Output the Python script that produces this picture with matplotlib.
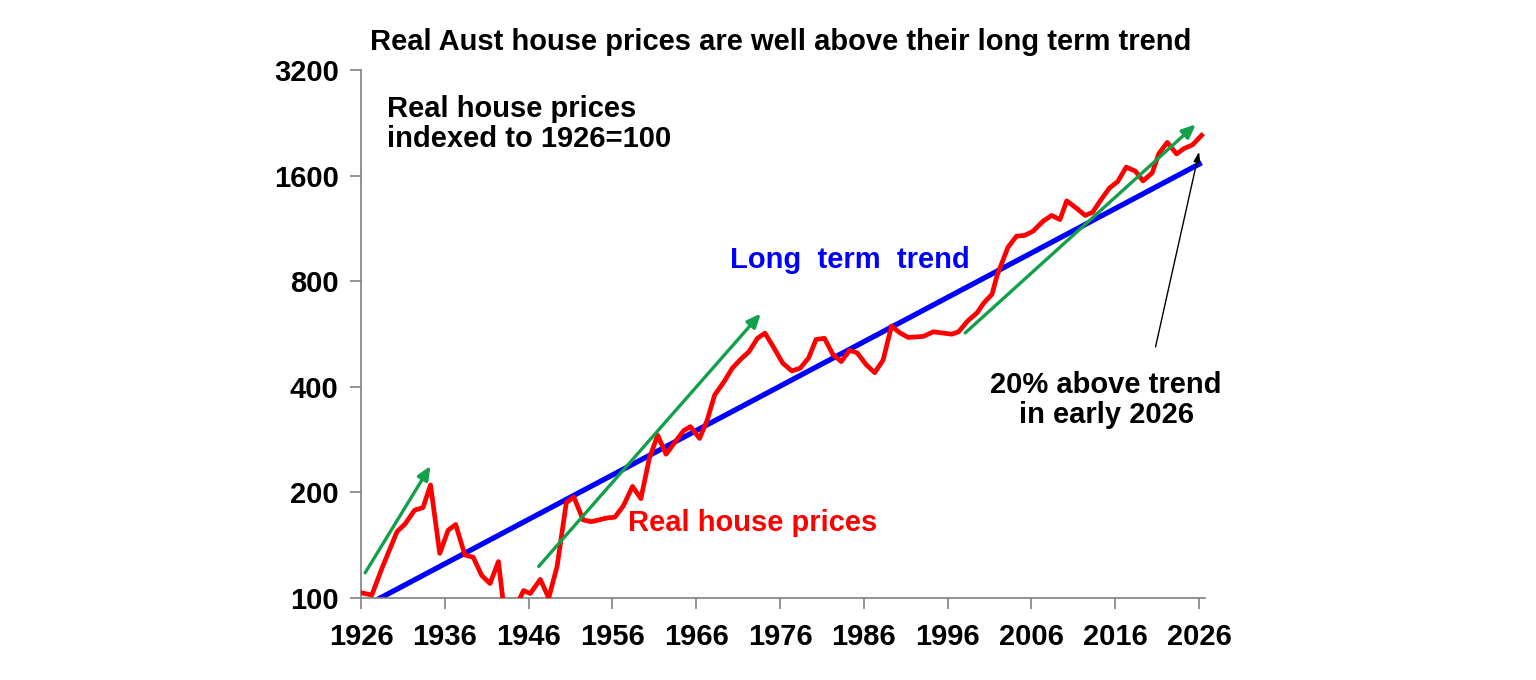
import numpy as np
import matplotlib.pyplot as plt
from matplotlib.ticker import FixedLocator, NullLocator

plt.rcParams['font.family'] = ['Liberation Sans', 'DejaVu Sans']

# real house prices, indexed to 1926=100
years = [1926.0, 1927.3, 1928.5, 1930.3, 1931.3, 1932.4, 1933.4, 1934.3, 1935.4, 1936.4,
         1937.3, 1938.4, 1939.4, 1940.4, 1941.4, 1942.4, 1943.0, 1944.0, 1944.8, 1945.4,
         1946.2, 1947.4, 1948.4, 1949.4, 1950.5, 1951.4, 1952.5, 1953.5, 1955.3, 1956.3,
         1957.3, 1958.4, 1959.4, 1960.4, 1961.4, 1962.4, 1963.5, 1964.5, 1965.3, 1966.4,
         1967.3, 1968.2, 1969.3, 1970.3, 1971.3, 1972.3, 1973.3, 1974.2, 1975.2, 1976.3,
         1977.4, 1978.4, 1979.4, 1980.3, 1981.3, 1982.3, 1983.3, 1984.3, 1985.2, 1986.3,
         1987.3, 1988.3, 1989.3, 1990.3, 1991.3, 1993.1, 1994.3, 1996.5, 1997.3, 1998.4,
         1999.5, 2000.3, 2001.3, 2001.9, 2003.2, 2004.2, 2005.2, 2006.2, 2007.4, 2008.4,
         2009.4, 2010.2, 2011.4, 2012.4, 2013.3, 2014.2, 2015.3, 2016.3, 2017.3, 2018.4,
         2019.3, 2020.4, 2021.2, 2022.2, 2023.3, 2024.2, 2025.2, 2026.3]
prices = [103.5, 102, 121.5, 154.5, 163, 178, 181, 210, 134, 156,
          162, 132.6, 130.6, 116, 110, 127, 96, 92, 98, 105,
          103, 113, 100, 123, 187, 194, 167, 165, 169, 170,
          183, 208, 192, 250, 291, 257, 279, 300, 308, 285,
          321, 379, 413, 452, 479, 504, 550, 569, 520, 468,
          444, 452, 483, 546, 550, 495, 472, 508, 500, 462,
          439, 477, 596, 570, 553, 557, 574, 565, 574, 617,
          650, 693, 735, 832, 1000, 1075, 1081, 1112, 1187, 1232,
          1199, 1356, 1290, 1232, 1258, 1356, 1475, 1540, 1692, 1648,
          1545, 1629, 1850, 1990, 1845, 1912, 1957, 2085]

trend_years = [1926.0, 2026.3]
trend_vals = [93.5, 1741]

# green growth arrows: (start year, start value, end year, end value)
boom_arrows = [(1926.5, 118, 1934.3, 238),
               (1947.2, 123, 1973.7, 647),
               (1998.1, 570, 2025.6, 2240)]

y_ticks = [100, 200, 400, 800, 1600, 3200]
x_ticks = list(range(1926, 2027, 10))

fig = plt.figure(figsize=(15.36, 6.8), dpi=100)
ax = fig.add_axes([0.235, 0.1206, 0.5495, 0.7764])

ax.plot(trend_years, trend_vals, color='#0000ff', lw=3.8, solid_capstyle='butt', zorder=2)
ax.plot(years, prices, color='#ff0000', lw=3.4, zorder=3)

for x0, y0, x1, y1 in boom_arrows:
    ax.annotate('', xy=(x1, y1), xytext=(x0, y0),
                arrowprops=dict(arrowstyle='-|>,head_length=0.8,head_width=0.35',
                                color='#13a04b', lw=2.4, shrinkA=0, shrinkB=0),
                zorder=4)

ax.annotate('', xy=(2026.0, 1870), xytext=(2020.8, 520),
            arrowprops=dict(arrowstyle='-|>,head_length=0.6,head_width=0.2',
                            color='black', lw=1.0, shrinkA=0, shrinkB=0))

ax.set_yscale('log')
ax.set_ylim(100, 3200)
ax.set_xlim(1926, 2026.7)
ax.yaxis.set_major_locator(FixedLocator(y_ticks))
ax.yaxis.set_minor_locator(NullLocator())
ax.set_yticklabels([str(v) for v in y_ticks])
ax.set_xticks(x_ticks)
ax.set_xticklabels([str(v) for v in x_ticks])

for s in ['top', 'right']:
    ax.spines[s].set_visible(False)
for s in ['left', 'bottom']:
    ax.spines[s].set_color('#808080')
    ax.spines[s].set_linewidth(1.2)
ax.tick_params(axis='both', colors='#808080', length=8, width=1.2,
               labelcolor='black', labelsize=21)
ax.tick_params(axis='y', pad=8)
ax.tick_params(axis='x', pad=10)
for lab in ax.get_xticklabels() + ax.get_yticklabels():
    lab.set_fontweight('bold')

fig.text(0.508, 0.938, 'Real Aust house prices are well above their long term trend',
         ha='center', va='center', fontsize=21, fontweight='bold')
ax.text(0.031, 0.952, 'Real house prices\nindexed to 1926=100', transform=ax.transAxes,
        ha='left', va='top', fontsize=21, fontweight='bold', linespacing=1.08)
ax.text(1970.0, 919, 'Long  term  trend', color='#0000ff', ha='left', va='center',
        fontsize=21, fontweight='bold')
ax.text(1957.9, 164, 'Real house prices', color='#ff0000', ha='left', va='center',
        fontsize=21, fontweight='bold')
ax.text(2014.9, 366, '20% above trend\nin early 2026', color='black', ha='center',
        va='center', fontsize=21, fontweight='bold', linespacing=1.1)

fig.savefig('out.png', dpi=100)
